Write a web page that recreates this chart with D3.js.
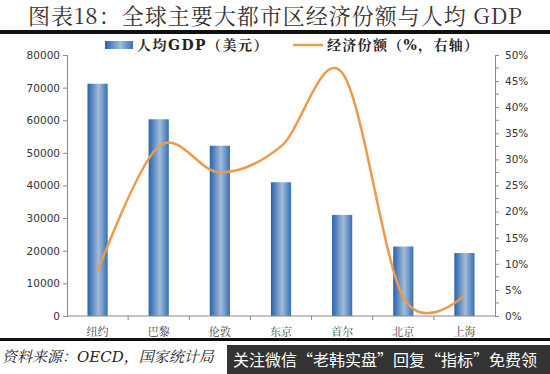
<!DOCTYPE html>
<html>
<head>
<meta charset="utf-8">
<script src="https://cdn.jsdelivr.net/npm/d3@7"></script>
<style>
body { margin: 0; background: #fff; }
svg { display: block; }
</style>
</head>
<body>
<svg id="chart" width="550" height="374"></svg>
<script>
// data
var cities = ["纽约", "巴黎", "伦敦", "东京", "首尔", "北京", "上海"];
var gdpPerCapita = [71200, 60300, 52200, 41000, 31000, 21300, 19300];
var econShare = [8.5, 32.5, 27.5, 32.5, 46.6, 3.6, 4.0];
var leftTicks = [0, 10000, 20000, 30000, 40000, 50000, 60000, 70000, 80000];
var rightTicks = [0, 5, 10, 15, 20, 25, 30, 35, 40, 45, 50];

var svg = d3.select("#chart");
var serif = "'DejaVu Serif', 'Liberation Serif', 'Noto Serif CJK SC', 'Noto Sans CJK SC', serif";

var x0 = 67, x1 = 495, yTop = 55, yBot = 316;

var xScale = d3.scaleBand().domain(cities).range([x0, x1]).paddingInner(0.67).paddingOuter(0.335);
var yScale = d3.scaleLinear().domain([0, 80000]).range([yBot, yTop]);
var y2Scale = d3.scaleLinear().domain([0, 50]).range([yBot, yTop]);

// gradient for bars
var grad = svg.append("defs").append("linearGradient")
    .attr("id", "barGrad").attr("x1", "0%").attr("x2", "100%");
grad.append("stop").attr("offset", "0%").attr("stop-color", "#2863aa");
grad.append("stop").attr("offset", "55%").attr("stop-color", "#a3bcda");
grad.append("stop").attr("offset", "100%").attr("stop-color", "#3570b4");

// title
svg.append("text")
    .attr("x", 28).attr("y", 24)
    .style("font-family", "'Noto Serif CJK SC', 'Noto Sans CJK SC', serif")
    .style("font-size", "22px")
    .style("letter-spacing", "1px")
    .style("fill", "#333")
    .text("图表18：全球主要大都市区经济份额与人均 GDP");
svg.append("rect").attr("x", 0).attr("y", 30).attr("width", 550).attr("height", 4).attr("fill", "#111");

// left axis
var leftAxis = d3.axisLeft(yScale).tickValues(leftTicks).tickSize(4).tickFormat(d3.format("d"));
var gl = svg.append("g").attr("transform", "translate(" + x0 + ",0)").call(leftAxis);
gl.select(".domain").attr("stroke", "#888");
gl.selectAll(".tick line").attr("stroke", "#888");
gl.selectAll(".tick text")
    .style("font-family", "'DejaVu Sans', sans-serif")
    .style("font-size", "10.5px").style("fill", "#333").attr("x", -7);

// right axis
var rightAxis = d3.axisRight(y2Scale).tickValues(rightTicks).tickSize(4).tickFormat(function(d){ return d + "%"; });
var gr = svg.append("g").attr("transform", "translate(" + x1 + ",0)").call(rightAxis);
gr.select(".domain").attr("stroke", "#888");
gr.selectAll(".tick line").attr("stroke", "#888");
gr.selectAll(".tick text")
    .style("font-family", "'DejaVu Sans', sans-serif")
    .style("font-size", "10.5px").style("fill", "#333").attr("x", 10);
// minor ticks
gr.selectAll(".minor").data(d3.range(2.5, 50, 5)).enter().append("line")
    .attr("x1", 0).attr("x2", 4)
    .attr("y1", function(d){ return y2Scale(d); }).attr("y2", function(d){ return y2Scale(d); })
    .attr("stroke", "#888");

// bars
svg.selectAll(".bar").data(cities).enter().append("rect")
    .attr("class", "bar")
    .attr("x", function(d){ return xScale(d); })
    .attr("width", xScale.bandwidth())
    .attr("y", function(d, i){ return yScale(gdpPerCapita[i]); })
    .attr("height", function(d, i){ return yBot - yScale(gdpPerCapita[i]); })
    .attr("fill", "url(#barGrad)");

// x axis
svg.append("line").attr("x1", x0).attr("x2", x1).attr("y1", yBot).attr("y2", yBot).attr("stroke", "#888");
svg.selectAll(".xtick").data(d3.range(1, cities.length)).enter().append("line")
    .attr("x1", function(d){ return x0 + d * (x1 - x0) / cities.length; })
    .attr("x2", function(d){ return x0 + d * (x1 - x0) / cities.length; })
    .attr("y1", yBot).attr("y2", yBot + 4).attr("stroke", "#888");
svg.selectAll(".xlab").data(cities).enter().append("text")
    .attr("x", function(d){ return xScale(d) + xScale.bandwidth() / 2; })
    .attr("y", 336)
    .attr("text-anchor", "middle")
    .style("font-family", serif)
    .style("font-size", "11px").style("fill", "#444")
    .text(function(d){ return d; });

// line
var linegen = d3.line()
    .x(function(d, i){ return xScale(cities[i]) + xScale.bandwidth() / 2; })
    .y(function(d){ return y2Scale(d); })
    .curve(d3.curveCatmullRom.alpha(0));
svg.append("path").datum(econShare)
    .attr("d", linegen)
    .attr("fill", "none")
    .attr("stroke", "#ef9a4a")
    .attr("stroke-width", 2.5);

// legend
svg.append("rect").attr("x", 105).attr("y", 41).attr("width", 28).attr("height", 8).attr("fill", "url(#barGrad)");
svg.append("text").attr("x", 137).attr("y", 50)
    .style("font-family", serif).style("font-size", "14px").style("font-weight", "bold")
    .style("letter-spacing", "1.5px").style("fill", "#222")
    .text("人均GDP（美元）");
svg.append("line").attr("x1", 293).attr("x2", 323).attr("y1", 45).attr("y2", 45)
    .attr("stroke", "#ef9a4a").attr("stroke-width", 2.5);
svg.append("text").attr("x", 327).attr("y", 50)
    .style("font-family", serif).style("font-size", "14px").style("font-weight", "bold")
    .style("letter-spacing", "1.3px").style("fill", "#222")
    .text("经济份额（%，右轴）");

// footer
svg.append("rect").attr("x", 0).attr("y", 338).attr("width", 550).attr("height", 3).attr("fill", "#111");
svg.append("text").attr("x", 2).attr("y", 362)
    .style("font-family", serif).style("font-size", "15px").style("font-style", "italic").style("fill", "#222")
    .text("资料来源：OECD，国家统计局");
svg.append("rect").attr("x", 227).attr("y", 345).attr("width", 323).attr("height", 29).attr("fill", "#333");
svg.append("text").attr("x", 233).attr("y", 366)
    .style("font-family", "'Noto Sans CJK SC', sans-serif").style("font-size", "16px").style("fill", "#fff")
    .text("关注微信“老韩实盘”回复“指标”免费领");
</script>
</body>
</html>
